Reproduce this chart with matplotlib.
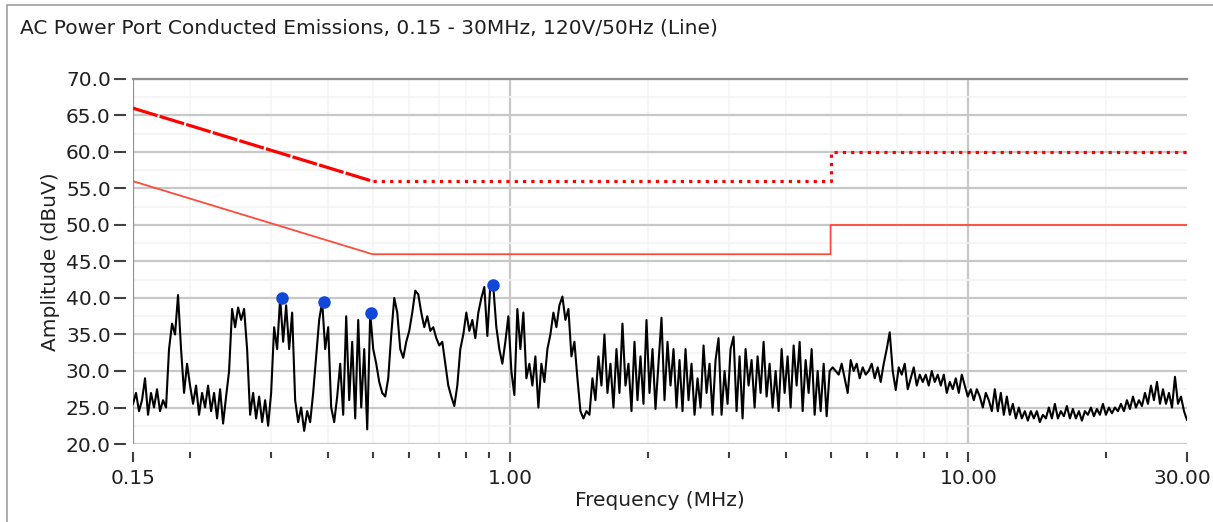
import numpy as np
import matplotlib
matplotlib.use("Agg")
import matplotlib.pyplot as plt
import matplotlib.transforms as mtrans
from matplotlib.ticker import FixedLocator, NullFormatter, MultipleLocator
from matplotlib.patches import Rectangle

# limit lines (MHz, dBuV)
qp_freq = [0.15, 0.5, 5.0, 5.0, 30.0]
qp_limit = [66, 56, 56, 60, 60]
avg_freq = [0.15, 0.5, 5.0, 5.0, 30.0]
avg_limit = [56, 46, 46, 50, 50]

# peak markers
peak_freq = [0.317, 0.391, 0.495, 0.914]
peak_amp = [40.0, 39.5, 37.9, 41.8]

trace_amp = [
    25.5, 27, 24.5, 26, 29, 24, 27, 25, 27.5, 24.5, 26, 25, 33, 36.5, 35, 40.4, 33, 27, 31, 28,
    25.5, 28, 24, 27, 25, 28, 24.5, 27, 23.5, 27.5, 22.8, 26.5, 30, 38.5, 36, 38.7, 37, 38.5, 33, 24,
    27, 23.5, 26.5, 23, 26, 22.5, 27, 36, 33, 40, 34, 39, 33, 38, 26, 23, 25, 21.8, 24.5, 23,
    27, 32, 37, 39.5, 33, 36, 25, 23, 26.5, 31, 24, 37.5, 26, 34, 23.5, 37, 25, 33, 22, 37.9,
    33, 31, 28.5, 27, 26.5, 29, 35, 40, 38, 33, 31.8, 34, 35.5, 38, 41, 40.5, 38, 36, 37.5, 35.5,
    36, 34.5, 33.5, 34, 31, 28, 26.5, 25.2, 28, 33, 35, 38, 35.5, 37, 34.5, 38, 40, 41.5, 34.8, 41.8,
    41.5, 36, 33, 31, 34, 37.5, 30, 26.7, 38.5, 33, 38, 29, 31, 28, 32, 25, 31, 28.5, 33, 35,
    38, 36, 39, 40.2, 37, 38.5, 32, 34, 29, 24.5, 23.5, 24.5, 24, 29, 26, 32, 28, 35, 27, 31,
    25, 33, 27, 36.5, 28, 31, 24.5, 34, 26, 32, 25.5, 37, 27, 33, 24.8, 31, 37.3, 26, 34, 28,
    33, 25, 31.5, 24.5, 33, 26, 31, 24, 29, 25, 33.5, 27, 31, 24, 31.5, 34.5, 24, 30, 25.5, 33,
    34.7, 24.5, 32, 23.5, 33, 28, 31.5, 25, 32, 27, 34, 26.5, 31, 25, 30, 24.5, 33, 27, 32, 25,
    33.5, 28, 34, 24.5, 31.5, 27, 33, 24, 30, 24.5, 31, 23.8, 30, 30.5, 30, 29.5, 31, 29, 27, 31.5,
    30, 31, 29, 30.5, 29.5, 30, 31, 29, 30.5, 28.5, 31, 33, 35.3, 30, 27.4, 30.5, 29.5, 31, 27.5, 29,
    30.5, 28, 29.5, 28.5, 29.5, 28, 30, 28.5, 29.5, 28, 29.5, 27, 28.5, 27.5, 29, 27, 29.5, 28, 26.5, 27.5,
    26, 27.5, 26.5, 25, 27, 26, 24.5, 27.5, 24.5, 27, 24, 26.5, 24, 25.5, 23.5, 25, 23.5, 24.5, 23.2, 24.5,
    23.5, 24.5, 23, 24, 23.5, 25, 23.5, 25.5, 23.5, 24.5, 23.8, 25.2, 23.5, 24.8, 23.5, 24.5, 23.2, 24.5, 24, 25,
    23.8, 24.8, 24, 25.5, 24, 25, 24.2, 25, 24.5, 25.5, 24.5, 26, 24.8, 26.5, 25, 26, 25.2, 27, 25.5, 28,
    26, 28.5, 25.5, 27.5, 25.5, 27, 25, 29.2, 25.5, 26.5, 24.5, 23.3,
]
trace_freq = np.geomspace(0.15, 30, len(trace_amp))

major_x = [0.15, 1.0, 10.0, 30.0]
major_x_labels = ["0.15", "1.00", "10.00", "30.00"]
minor_x = [0.2, 0.3, 0.4, 0.5, 0.6, 0.7, 0.8, 0.9,
           2, 3, 4, 5, 6, 7, 8, 9, 20]

plt.rcParams['font.family'] = ['DejaVu Sans']
fs = 14.5

fig = plt.figure(figsize=(12.13, 5.22), dpi=100)
fig.patches.append(Rectangle((7 / 1213, -0.1), 1.2, 1 - 5 / 522 + 0.1,
                             transform=fig.transFigure, fill=False,
                             edgecolor="#a0a0a0", linewidth=1.2))
fig.text(20 / 1213, 1 - 28 / 522, "AC Power Port Conducted Emissions, 0.15 - 30MHz, 120V/50Hz (Line)",
         fontsize=fs, va="center", ha="left", color="#202020")

ax = fig.add_axes([133 / 1213, 1 - 444 / 522, (1187 - 133) / 1213, (444 - 79) / 522])
ax.set_xscale("log")
ax.set_xlim(0.15, 30)
ax.set_ylim(20, 70)

# grid
for v in minor_x:
    ax.axvline(v, color="#f5f5f5", lw=1.2, zorder=0)
for v in [1.0, 10.0]:
    ax.axvline(v, color="#c8c8c8", lw=1.6, zorder=0)
for v in np.arange(22.5, 70, 5):
    ax.axhline(v, color="#f3f3f3", lw=1.2, zorder=0)
for v in range(20, 71, 5):
    ax.axhline(v, color="#c8c8c8", lw=1.6, zorder=0)
ax.axvline(0.15, color="#909090", lw=1.6, zorder=1)

ax.plot(trace_freq, trace_amp, color="black", lw=1.5, zorder=3)
ax.plot(qp_freq[:2], qp_limit[:2], color="#ff0000", lw=2.3, linestyle=(0, (8, 0.7)), zorder=4)
ax.plot(qp_freq[1:], qp_limit[1:], color="#ff0000", lw=2.3, linestyle=(0, (1, 1.6)), zorder=4)
ax.plot(avg_freq, avg_limit, color="#ff4b3a", lw=1.3, zorder=4)
ax.plot(peak_freq, peak_amp, "o", color="#1248d8", markersize=8, zorder=5)

for s in ["right", "bottom", "left"]:
    ax.spines[s].set_visible(False)
ax.spines["top"].set_color("#909090")
ax.spines["top"].set_linewidth(1.6)
ax.spines["left"].set_position(("outward", 5))
ax.spines["bottom"].set_position(("outward", 6))

ax.xaxis.set_major_locator(FixedLocator(major_x))
ax.set_xticklabels(major_x_labels)
ax.xaxis.set_minor_locator(FixedLocator(minor_x))
ax.xaxis.set_minor_formatter(NullFormatter())
ax.yaxis.set_major_locator(MultipleLocator(5))
ax.yaxis.set_major_formatter(plt.FormatStrFormatter("%.1f"))
ax.yaxis.set_minor_locator(plt.NullLocator())

ax.tick_params(axis="x", which="major", length=7, width=1.5, color="#404040",
               labelsize=fs, pad=5, labelcolor="#202020")
ax.tick_params(axis="x", which="minor", length=4, width=1.5, color="#404040")
ax.tick_params(axis="y", which="major", length=9, width=1.5, color="#404040",
               labelsize=fs, pad=2, labelcolor="#202020")

# keep the last label inside the picture
last = ax.get_xticklabels()[-1]
last.set_transform(last.get_transform() + mtrans.ScaledTranslation(-5 / 100, 0, fig.dpi_scale_trans))

ax.set_xlabel("Frequency (MHz)", fontsize=fs, color="#202020", labelpad=2)
ax.set_ylabel("Amplitude (dBuV)", fontsize=fs, color="#202020", labelpad=4)

fig.savefig("out.png", dpi=100)
